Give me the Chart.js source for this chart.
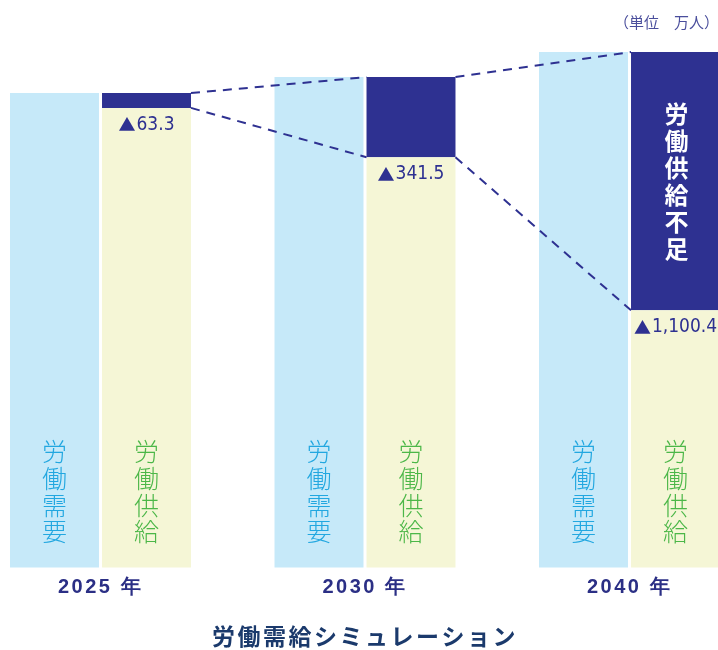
<!DOCTYPE html>
<html>
<head>
<meta charset="utf-8">
<script src="https://cdn.jsdelivr.net/npm/chart.js@4"></script>
<style>
html,body{margin:0;padding:0;background:#fff;}
#wrap{width:718px;height:650px;position:relative;}
</style>
</head>
<body>
<div id="wrap"><canvas id="c"></canvas></div>
<script>
// ---- data (万人) ----
const years = ['2025 年', '2030 年', '2040 年'];
const demand = [6774, 6842, 6949];          // 労働需要
const supply = [6710.7, 6500.5, 5848.6];    // 労働供給
const shortage = [63.3, 341.5, 1100.4];     // 労働供給不足
const unitLabel = '（単位　万人）';
const chartTitle = '労働需給シミュレーション';

const NAVY = '#2e3191';
const CJK = '"Noto Sans CJK JP", sans-serif';

const overlay = {
  id: 'overlay',
  beforeDraw(chart) { chart.ctx.letterSpacing = '2.5px'; },
  afterDatasetsDraw(chart) {
    const ctx = chart.ctx;
    const area = chart.chartArea;
    const mDem = chart.getDatasetMeta(0);
    const mSup = chart.getDatasetMeta(1);
    const mSh = chart.getDatasetMeta(2);
    ctx.save();
    ctx.letterSpacing = '0px';

    // dashed connector lines
    ctx.strokeStyle = NAVY;
    ctx.lineWidth = 2;
    ctx.setLineDash([9, 7]);
    for (let i = 0; i < mSh.data.length - 1; i++) {
      const a = mSh.data[i].getProps(['x', 'y', 'base', 'width'], true);
      const b = mSh.data[i + 1].getProps(['x', 'y', 'base', 'width'], true);
      ctx.beginPath();
      ctx.moveTo(a.x + a.width / 2, a.y);
      ctx.lineTo(b.x - b.width / 2, b.y);
      ctx.moveTo(a.x + a.width / 2, a.base);
      ctx.lineTo(b.x - b.width / 2, b.base);
      ctx.stroke();
    }
    ctx.setLineDash([]);

    // shortage value labels (▲ + value)
    ctx.fillStyle = NAVY;
    ctx.textBaseline = 'middle';
    ctx.textAlign = 'left';
    const numFont = '19px "Liberation Sans Narrow", "DejaVu Sans Condensed", sans-serif';
    const triFont = '17px ' + CJK;
    mSh.data.forEach((el, i) => {
      const p = el.getProps(['x', 'base'], true);
      const num = shortage[i].toLocaleString('en-US', {minimumFractionDigits: 1, maximumFractionDigits: 1});
      ctx.font = triFont;
      const tw = ctx.measureText('▲').width;
      ctx.font = numFont;
      const nw = ctx.measureText(num).width;
      const x0 = p.x - (tw + nw + 1) / 2;
      const y = p.base + 17;
      ctx.font = triFont;
      ctx.fillText('▲', x0, y);
      ctx.font = numFont;
      ctx.fillText(num, x0 + tw + 1, y);
    });

    // vertical labels inside bars
    ctx.textAlign = 'center';
    const drawVert = (str, x, yStart, pitch) => {
      [...str].forEach((ch, k) => ctx.fillText(ch, x, yStart + k * pitch));
    };
    ctx.font = '300 25px ' + CJK;
    mDem.data.forEach(el => {
      ctx.fillStyle = '#22a7e0';
      drawVert('労働需要', el.x, area.bottom - 116, 26.8);
    });
    mSup.data.forEach(el => {
      ctx.fillStyle = '#4cb748';
      drawVert('労働供給', el.x, area.bottom - 116, 26.8);
    });

    // big shortage label in last bar
    const last = mSh.data[mSh.data.length - 1].getProps(['x', 'y', 'base'], true);
    ctx.font = 'bold 24px ' + CJK;
    ctx.fillStyle = '#ffffff';
    const s = '労働供給不足';
    const pitch = 27;
    const mid = (last.y + last.base) / 2;
    drawVert(s, last.x + 1, mid - pitch * (s.length - 1) / 2, pitch);

    // unit label
    ctx.font = '15px ' + CJK;
    ctx.fillStyle = '#4a4e9c';
    ctx.textAlign = 'left';
    ctx.fillText(unitLabel, 614, 22);
    ctx.restore();
  }
};

new Chart(document.getElementById('c'), {
  type: 'bar',
  data: {
    labels: years,
    datasets: [
      { label: '労働需要', data: demand, stack: 'a', backgroundColor: '#c6e9f9' },
      { label: '労働供給', data: supply, stack: 'b', backgroundColor: '#f5f6d6' },
      { label: '労働供給不足', data: shortage, stack: 'b', backgroundColor: NAVY }
    ]
  },
  options: {
    responsive: true,
    maintainAspectRatio: false,
    animation: false,
    clip: { left: false, right: false, top: false, bottom: 0 },
    categoryPercentage: 0.6957,
    barPercentage: 0.967,
    layout: { padding: { left: 100.5, right: 88.5, top: 40, bottom: 0 } },
    plugins: {
      legend: { display: false },
      tooltip: { enabled: false },
      title: {
        display: true,
        position: 'bottom',
        text: chartTitle,
        color: '#1b3a6c',
        font: { family: CJK, size: 23, weight: 'bold' },
        padding: { top: 15, bottom: 0 }
      }
    },
    scales: {
      x: {
        offset: false,
        grid: { display: false, drawTicks: false },
        border: { display: false },
        ticks: {
          color: '#2b2f85',
          padding: 8,
          font: { family: '"Liberation Sans", Arial, sans-serif', size: 20, weight: 'bold' }
        }
      },
      y: {
        display: false,
        stacked: true,
        min: 4753,
        max: 7000,
        grid: { display: false }
      }
    }
  },
  plugins: [overlay]
});
</script>
</body>
</html>
